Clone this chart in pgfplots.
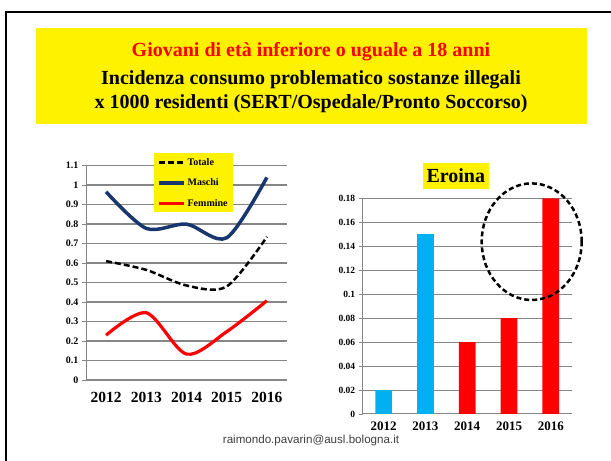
\documentclass[border=0pt]{standalone}
\usepackage{fontspec}
\setmainfont{Liberation Serif}
\newfontfamily\arial{Liberation Sans}
\usepackage{pgfplots}
\pgfplotsset{compat=1.18}
\definecolor{navy}{RGB}{23,55,110}
\definecolor{skyb}{RGB}{0,176,240}
\definecolor{gridg}{RGB}{134,134,134}
\definecolor{footg}{RGB}{64,64,64}
\begin{document}
\begin{tikzpicture}[x=1bp,y=1bp]
\clip (0,0) rectangle (611,461);
\fill[white] (0,0) rectangle (611,461);
\draw[line width=2bp, black] (6,-5) -- (6,449) -- (620,449);
\fill[yellow] (36,337) rectangle (587,433);
\node[font=\fontsize{20bp}{21bp}\selectfont\bfseries, text=red] at (311,409) {Giovani di età inferiore o uguale a 18 anni};
\node[font=\fontsize{20bp}{21bp}\selectfont\bfseries] at (311,381) {Incidenza consumo problematico sostanze illegali};
\node[font=\fontsize{20bp}{21bp}\selectfont\bfseries] at (311,357) {x 1000 residenti (SERT/Ospedale/Pronto Soccorso)};

\begin{axis}[at={(86bp,81bp)}, anchor=south west, scale only axis,
  width=201bp, height=214.3bp,
  xmin=-0.5, xmax=4.5, ymin=0, ymax=1.1,
  axis x line*=bottom, axis y line*=left,
  axis line style={gridg, line width=1bp},
  ymajorgrids, major grid style={gridg, line width=1.5bp},
  xtick={0,1,2,3,4}, xticklabels={2012,2013,2014,2015,2016},
  ytick={0,0.1,0.2,0.3,0.4,0.5,0.6,0.7,0.8,0.9,1,1.1},
  yticklabels={0,0.1,0.2,0.3,0.4,0.5,0.6,0.7,0.8,0.9,1,1.1},
  minor xtick={-0.5,0.5,1.5,2.5,3.5,4.5},
  xtick style={draw=none}, minor x tick style={gridg, line width=0.8bp},
  ytick style={gridg, line width=0.8bp},
  tick align=outside, minor tick length=5bp, major tick length=4bp,
  x tick label style={font=\fontsize{15.5bp}{15bp}\selectfont\bfseries, yshift=-5bp},
  y tick label style={font=\fontsize{10bp}{10bp}\selectfont\bfseries},
  legend style={at={(0.338,1.059)}, anchor=north west, fill=yellow, draw=none,
    font=\fontsize{10bp}{10bp}\selectfont\bfseries, row sep=8bp, inner sep=3bp},
  legend cell align=left,
  legend image code/.code={\draw[#1] (0bp,0bp) -- (25bp,0bp);},
]
\addplot[black, line width=2.5bp, smooth, dash pattern=on 6bp off 3bp] coordinates {(0,0.61)(1,0.565)(2,0.485)(3,0.48)(4,0.735)};
\addlegendentry{Totale}
\addplot[navy, line width=3.5bp, smooth] coordinates {(0,0.966)(1,0.778)(2,0.80)(3,0.73)(4,1.04)};
\addlegendentry{Maschi}
\addplot[red, line width=3.2bp, smooth] coordinates {(0,0.23)(1,0.345)(2,0.133)(3,0.248)(4,0.407)};
\addlegendentry{Femmine}
\end{axis}

\begin{axis}[at={(362.7bp,47bp)}, anchor=south west, scale only axis,
  width=209bp, height=215.7bp,
  xmin=-0.5, xmax=4.5, ymin=0, ymax=0.18,
  axis x line*=bottom, axis y line*=left,
  axis line style={gridg, line width=1bp},
  ymajorgrids, major grid style={gridg, line width=1bp},
  xtick={0,1,2,3,4}, xticklabels={2012,2013,2014,2015,2016},
  ytick={0,0.02,0.04,0.06,0.08,0.1,0.12,0.14,0.16,0.18},
  yticklabels={0,0.02,0.04,0.06,0.08,0.1,0.12,0.14,0.16,0.18},
  minor xtick={-0.5,0.5,1.5,2.5,3.5,4.5},
  xtick style={draw=none}, minor x tick style={gridg, line width=0.8bp},
  ytick style={gridg, line width=0.8bp},
  tick align=outside, minor tick length=5bp, major tick length=4bp,
  x tick label style={font=\fontsize{13bp}{13bp}\selectfont\bfseries, yshift=0bp},
  y tick label style={font=\fontsize{9.5bp}{10bp}\selectfont\bfseries},
]
\addplot[ybar, bar width=16.7bp, bar shift=0pt, fill=skyb, draw=none] coordinates {(0,0.02)(1,0.15)};
\addplot[ybar, bar width=16.7bp, bar shift=0pt, fill=red, draw=none] coordinates {(2,0.06)(3,0.08)(4,0.18)};
\end{axis}

\fill[yellow] (422.7,272) rectangle (489,298.3);
\node[font=\fontsize{20bp}{20bp}\selectfont\bfseries] at (455.8,285.2) {Eroina};
\draw[black, line width=2.5bp, dash pattern=on 5bp off 3bp] (531.7,219.3) ellipse [x radius=50, y radius=58.3];
\node[font=\arial\fontsize{11.6bp}{11.6bp}\selectfont, text=footg] at (311,20.5) {raimondo.pavarin@ausl.bologna.it};
\end{tikzpicture}
\end{document}
